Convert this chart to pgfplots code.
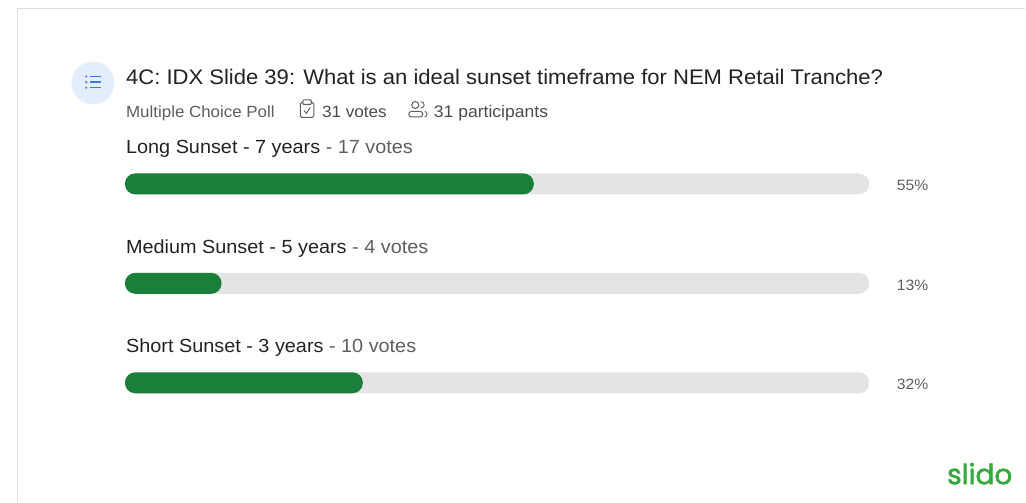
\documentclass[border=0pt]{standalone}
\usepackage{pgfplots}
\pgfplotsset{compat=1.18}
\usepackage{fontspec}
\setmainfont[FakeStretch=1.045]{Liberation Sans}
\newfontfamily\logofont[FakeBold=1.8]{Poppins}
\definecolor{barg}{HTML}{1A7F3A}
\definecolor{track}{HTML}{E4E4E4}
\definecolor{dk}{HTML}{222222}
\definecolor{md}{HTML}{5E5E5E}
\definecolor{frame}{HTML}{DEDEDE}
\definecolor{halo}{HTML}{E3EDFC}
\definecolor{blu}{HTML}{3B78F2}
\definecolor{logo}{HTML}{35A93D}
\newcommand{\fs}[1]{\fontsize{#1}{#1}\selectfont}
\begin{document}
\begin{tikzpicture}[x=1pt,y=-1pt]
\path (0,0) rectangle (1026,502);
\draw[frame,line width=1.2pt] (1026,8.5) -- (17.5,8.5) -- (17.5,502);
\begin{axis}[
  at={(0,0)},anchor=north west,
  scale only axis,width=1026pt,height=502pt,
  xmin=-16.801,xmax=121.102,
  ymin=-1.849,ymax=3.196,y dir=reverse,
  hide axis,clip=false,
  xbar,bar width=21pt,bar shift=0pt,
]
\addplot[fill=track,draw=none,rounded corners=10.4pt] coordinates {(100.1,0) (100.1,1) (100.1,2)};
\addplot[fill=barg,draw=none,rounded corners=10.4pt] coordinates {(55,0) (13,1) (32,2)};
\end{axis}
% header icon
\fill[halo] (93,83) circle (21.5);
\foreach \yy in {76.5,82.2,87.8}{
  \fill[blu] (86.3,\yy) circle (1.2);
  \draw[blu,line width=1.5pt] (90,\yy) -- (100.8,\yy);
}
% title
\node[anchor=base west,inner sep=0,text=dk] at (126,84.6) {\fs{21.1}4C: IDX Slide 39: What is an ideal sunset timeframe for NEM Retail Tranche?};
\node[anchor=base west,inner sep=0,text=md] at (126,117.4) {\fs{16.2}Multiple Choice Poll};
% clipboard icon
\draw[md,line width=1pt,rounded corners=1.5pt] (300.5,102.5) rectangle (314,117.5);
\draw[md,line width=1pt,fill=white,rounded corners=1pt] (303,100) rectangle (311.5,104.5);
\draw[md,line width=.9pt] (304,110.5) -- (306.5,113.5) -- (310.5,107.5);
\node[anchor=base west,inner sep=0,text=md!80!black] at (322,117.4) {\fs{16.4}31 votes};
% users icon
\draw[md,line width=1pt] (415.5,105) circle (3.5);
\draw[md,line width=1pt,rounded corners=2.6pt] (409,117) rectangle (423,111.5);
\draw[md,line width=.9pt] (421,101.8) .. controls (425.5,102) and (425.5,108) .. (421,108.2);
\draw[md,line width=.9pt] (425,111.5) .. controls (428,111.7) and (428,116.8) .. (425,117);
\node[anchor=base west,inner sep=0,text=md!80!black] at (434,117.4) {\fs{16.8}31 participants};
% option labels
\node[anchor=base west,inner sep=0,text=dk] at (126,153.6) {\fs{19}Long Sunset - 7 years \textcolor{md}{- 17 votes}};
\node[anchor=base west,inner sep=0,text=dk] at (126,253.6) {\fs{19}Medium Sunset - 5 years \textcolor{md}{- 4 votes}};
\node[anchor=base west,inner sep=0,text=dk] at (126,352.6) {\fs{19}Short Sunset - 3 years \textcolor{md}{- 10 votes}};
% percentages
\node[anchor=base east,inner sep=0,text=md] at (929,191) {\fs{15}55\%};
\node[anchor=base east,inner sep=0,text=md] at (929,290.5) {\fs{15}13\%};
\node[anchor=base east,inner sep=0,text=md] at (929,390) {\fs{15}32\%};
% logo
\node[anchor=base west,inner sep=0,text=logo] at (947.5,484.5) {\logofont\fs{28}slido};
\end{tikzpicture}
\end{document}
